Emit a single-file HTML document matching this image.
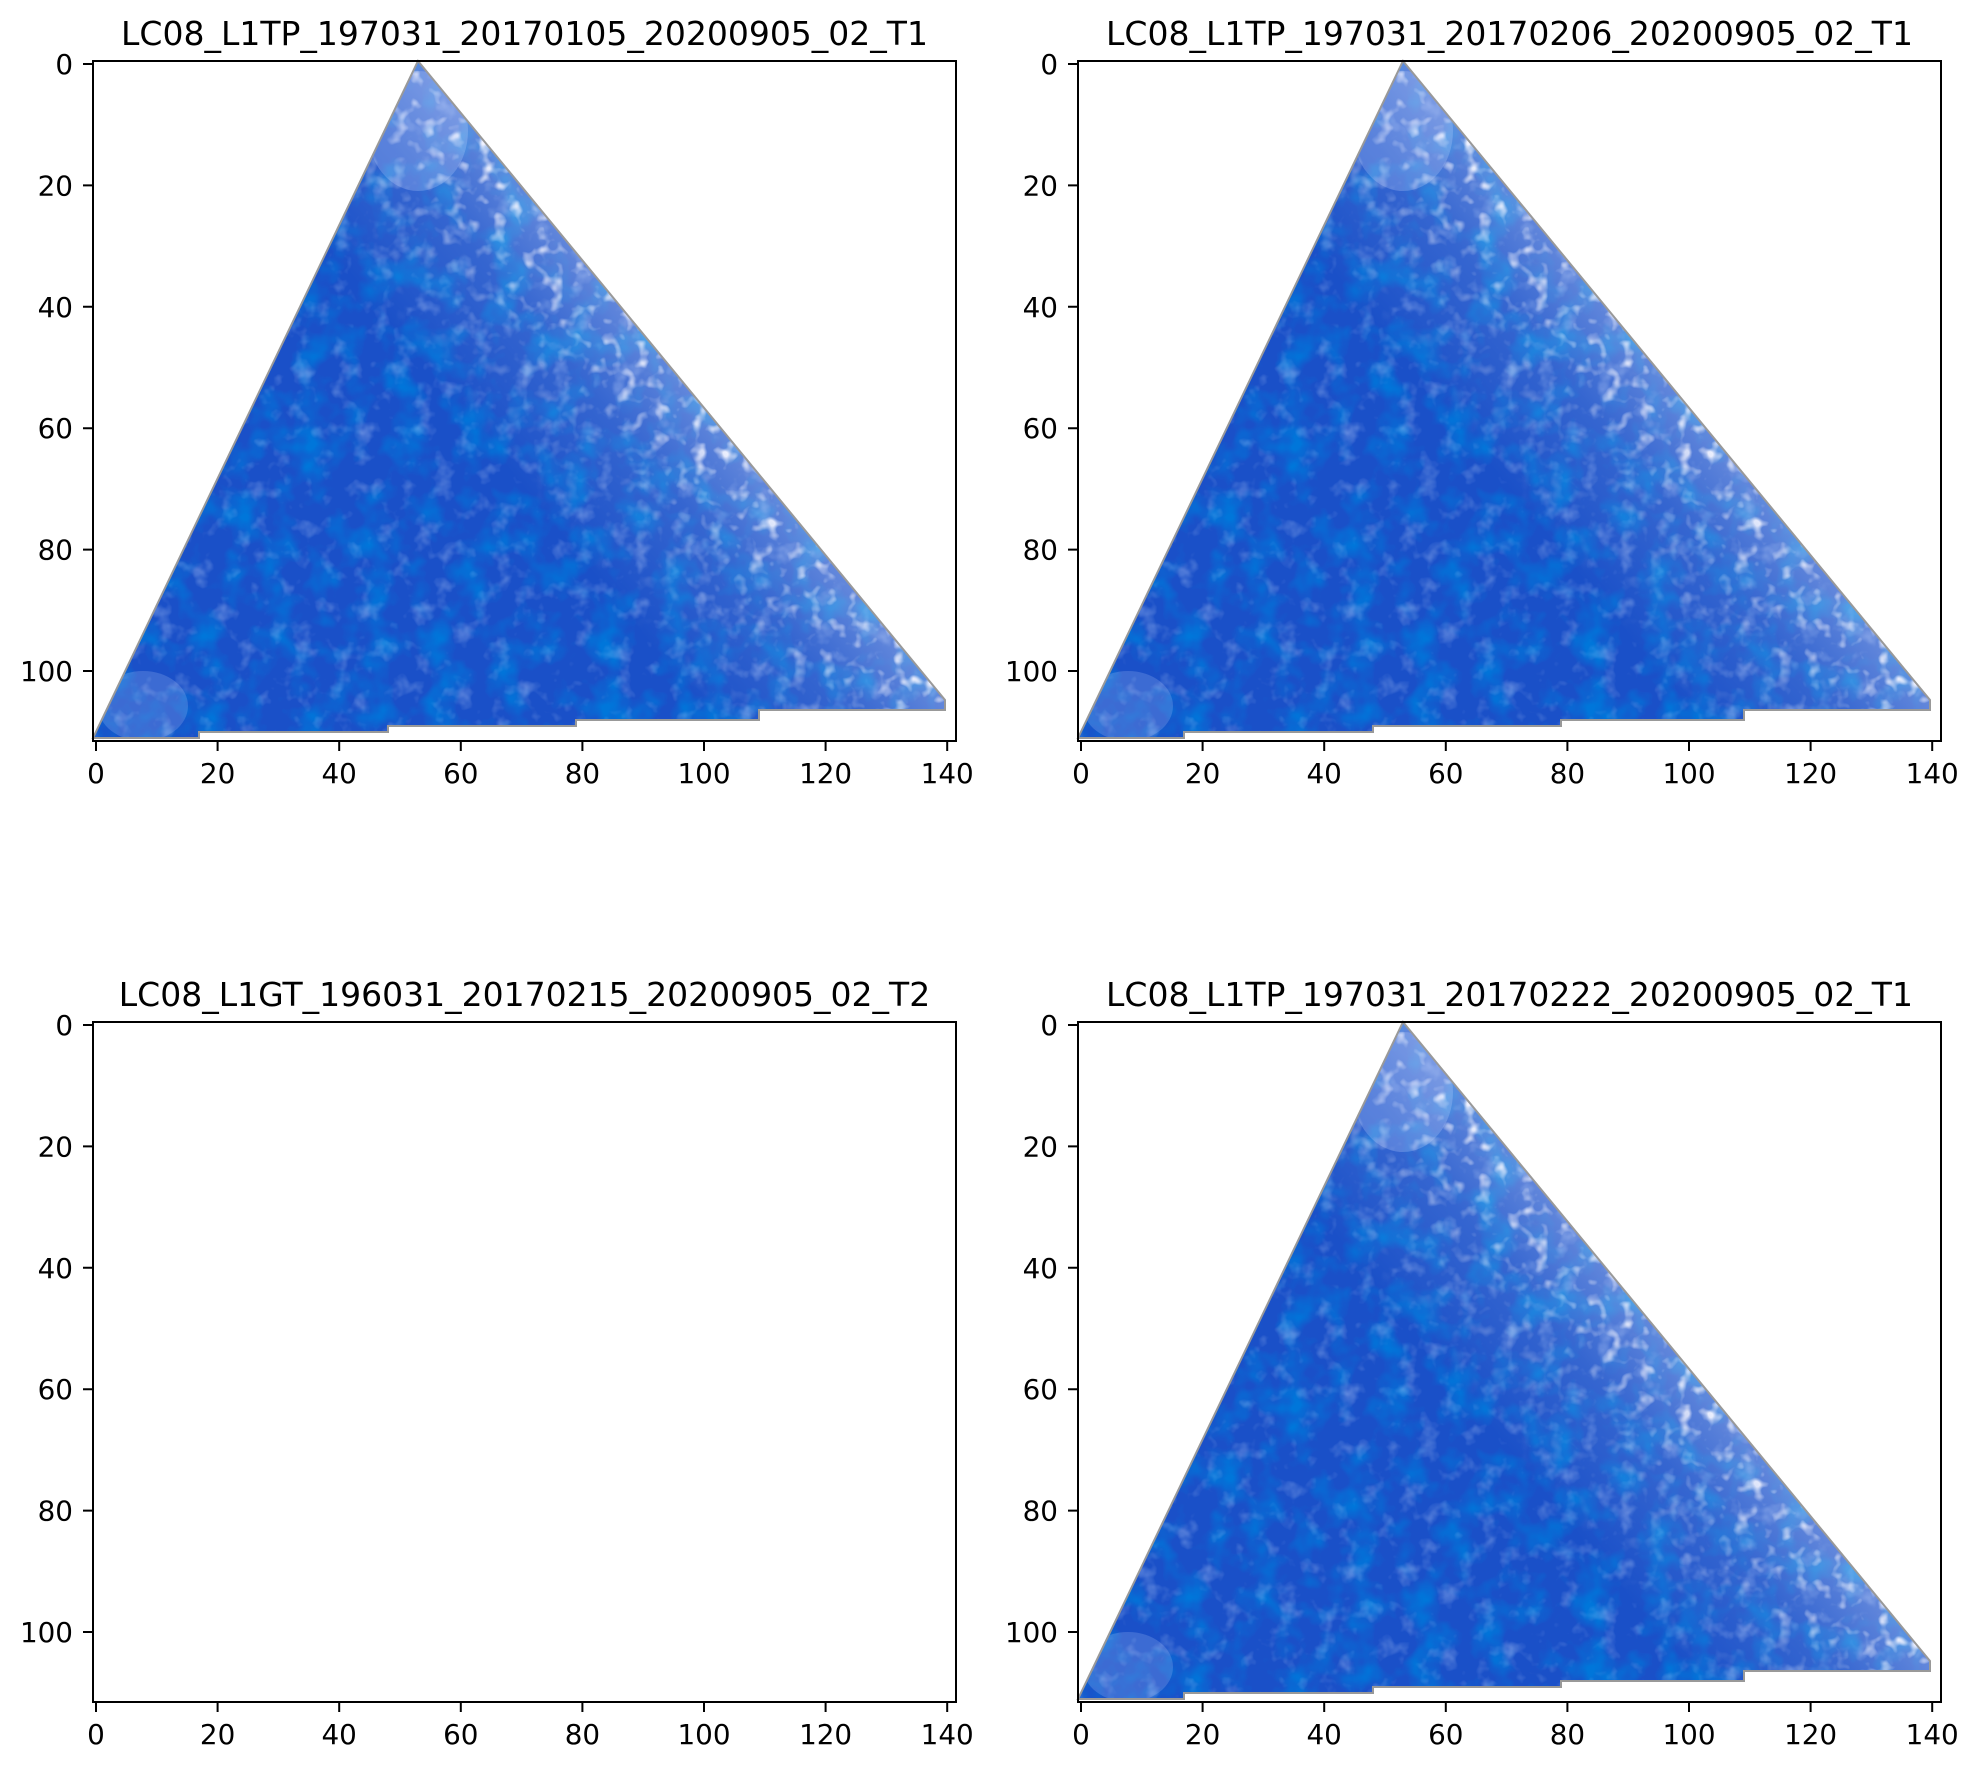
<!DOCTYPE html>
<html><head><meta charset="utf-8"><style>
html,body{margin:0;padding:0;background:#fff;}
svg{display:block;}
text{font-family:"DejaVu Sans","Liberation Sans",sans-serif;fill:#000;}
.t{font-size:33px;text-anchor:middle;}
.xl{font-size:27.8px;text-anchor:middle;}
.yl{font-size:27.8px;text-anchor:end;}
</style></head><body>
<svg width="1978" height="1767" viewBox="0 0 1978 1767" xmlns="http://www.w3.org/2000/svg">
<defs>
<clipPath id="tri"><path d="M325,0 L852,639 L852,649 L666,649 L666,659 L483,659 L483,665 L295,665 L295,671 L106,671 L106,677 L0,677 Z"/></clipPath>
<filter id="noise" x="0" y="0" width="100%" height="100%">
<feTurbulence type="fractalNoise" baseFrequency="0.05" numOctaves="3" seed="4"/>
<feColorMatrix type="matrix" values="0 0 0 0 0.6  0 0 0 0 0.72  0 0 0 0 1  0 0 0 2.2 -1.2"/>
</filter>
<filter id="noise2" x="0" y="0" width="100%" height="100%">
<feTurbulence type="fractalNoise" baseFrequency="0.03" numOctaves="3" seed="9"/>
<feColorMatrix type="matrix" values="0 0 0 0 0  0 0 0 0 0.18  0 0 0 0 0.7  0 0 0 2.5 -1.1"/>
</filter>
<filter id="wb" x="0" y="0" width="100%" height="100%">
<feTurbulence type="fractalNoise" baseFrequency="0.07" numOctaves="2" seed="21"/>
<feColorMatrix type="matrix" values="0 0 0 0 0.92  0 0 0 0 0.92  0 0 0 0 1  0 0 0 3.5 -1.9"/>
</filter>
<linearGradient id="edge" gradientUnits="userSpaceOnUse" x1="440" y1="440" x2="588" y2="320">
<stop offset="0" stop-color="#dfe8ff" stop-opacity="0"/>
<stop offset="0.6" stop-color="#cfe0ff" stop-opacity="0.15"/>
<stop offset="1" stop-color="#e6ecff" stop-opacity="0.35"/>
</linearGradient>
<mask id="edgeMask"><rect x="0" y="0" width="863" height="680" fill="url(#edgeM)"/></mask>
<linearGradient id="edgeM" gradientUnits="userSpaceOnUse" x1="440" y1="440" x2="588" y2="320">
<stop offset="0" stop-color="#000"/><stop offset="0.5" stop-color="#555"/><stop offset="1" stop-color="#fff"/>
</linearGradient>
<g id="img">
<g clip-path="url(#tri)">
<rect x="0" y="0" width="863" height="680" fill="#1a50c8"/>
<rect x="0" y="0" width="863" height="680" filter="url(#noise2)"/>
<rect x="0" y="0" width="863" height="680" fill="url(#edge)"/>
<rect x="0" y="0" width="863" height="680" filter="url(#noise)" opacity="0.45"/>
<rect x="0" y="0" width="863" height="680" filter="url(#wb)" mask="url(#edgeMask)"/>
<ellipse cx="325" cy="70" rx="50" ry="60" fill="#c8d8ff" opacity="0.25"/>
<ellipse cx="50" cy="645" rx="45" ry="35" fill="#c8d8ff" opacity="0.2"/>
</g>
<path d="M325,0 L852,639 L852,649 L666,649 L666,659 L483,659 L483,665 L295,665 L295,671 L106,671 L106,677 L0,677 Z" fill="none" stroke="#999" stroke-width="2"/>
</g>
<g id="axes" fill="none" stroke="#000" stroke-width="2">
<rect x="0" y="0" width="863" height="680"/>
<path d="M3,680v10M124.6,680v10M246.2,680v10M367.8,680v10M489.4,680v10M611,680v10M732.6,680v10M854.2,680v10"/>
<path d="M0,3h-10M0,124.4h-10M0,245.8h-10M0,367.2h-10M0,488.6h-10M0,610h-10"/>
</g>
</defs>

<use href="#img" x="93" y="61"/>
<use href="#img" x="1078" y="61"/>
<use href="#img" x="1078" y="1022"/>
<use href="#axes" x="93" y="61"/>
<use href="#axes" x="1078" y="61"/>
<use href="#axes" x="93" y="1022"/>
<use href="#axes" x="1078" y="1022"/>

<text class="t" x="524.5" y="45">LC08_L1TP_197031_20170105_20200905_02_T1</text>
<text class="t" x="1509.5" y="45">LC08_L1TP_197031_20170206_20200905_02_T1</text>
<text class="t" x="524.5" y="1006">LC08_L1GT_196031_20170215_20200905_02_T2</text>
<text class="t" x="1509.5" y="1006">LC08_L1TP_197031_20170222_20200905_02_T1</text>

<g>
<text class="xl" x="96" y="783">0</text><text class="xl" x="217.6" y="783">20</text><text class="xl" x="339.2" y="783">40</text><text class="xl" x="460.8" y="783">60</text><text class="xl" x="582.4" y="783">80</text><text class="xl" x="704" y="783">100</text><text class="xl" x="825.6" y="783">120</text><text class="xl" x="947.2" y="783">140</text>
<text class="xl" x="1081" y="783">0</text><text class="xl" x="1202.6" y="783">20</text><text class="xl" x="1324.2" y="783">40</text><text class="xl" x="1445.8" y="783">60</text><text class="xl" x="1567.4" y="783">80</text><text class="xl" x="1689" y="783">100</text><text class="xl" x="1810.6" y="783">120</text><text class="xl" x="1932.2" y="783">140</text>
<text class="xl" x="96" y="1744">0</text><text class="xl" x="217.6" y="1744">20</text><text class="xl" x="339.2" y="1744">40</text><text class="xl" x="460.8" y="1744">60</text><text class="xl" x="582.4" y="1744">80</text><text class="xl" x="704" y="1744">100</text><text class="xl" x="825.6" y="1744">120</text><text class="xl" x="947.2" y="1744">140</text>
<text class="xl" x="1081" y="1744">0</text><text class="xl" x="1202.6" y="1744">20</text><text class="xl" x="1324.2" y="1744">40</text><text class="xl" x="1445.8" y="1744">60</text><text class="xl" x="1567.4" y="1744">80</text><text class="xl" x="1689" y="1744">100</text><text class="xl" x="1810.6" y="1744">120</text><text class="xl" x="1932.2" y="1744">140</text>
</g>
<g>
<text class="yl" x="73" y="74">0</text><text class="yl" x="73" y="195.4">20</text><text class="yl" x="73" y="316.8">40</text><text class="yl" x="73" y="438.2">60</text><text class="yl" x="73" y="559.6">80</text><text class="yl" x="73" y="681">100</text>
<text class="yl" x="1058" y="74">0</text><text class="yl" x="1058" y="195.4">20</text><text class="yl" x="1058" y="316.8">40</text><text class="yl" x="1058" y="438.2">60</text><text class="yl" x="1058" y="559.6">80</text><text class="yl" x="1058" y="681">100</text>
<text class="yl" x="73" y="1035">0</text><text class="yl" x="73" y="1156.4">20</text><text class="yl" x="73" y="1277.8">40</text><text class="yl" x="73" y="1399.2">60</text><text class="yl" x="73" y="1520.6">80</text><text class="yl" x="73" y="1642">100</text>
<text class="yl" x="1058" y="1035">0</text><text class="yl" x="1058" y="1156.4">20</text><text class="yl" x="1058" y="1277.8">40</text><text class="yl" x="1058" y="1399.2">60</text><text class="yl" x="1058" y="1520.6">80</text><text class="yl" x="1058" y="1642">100</text>
</g>
</svg>
</body></html>
